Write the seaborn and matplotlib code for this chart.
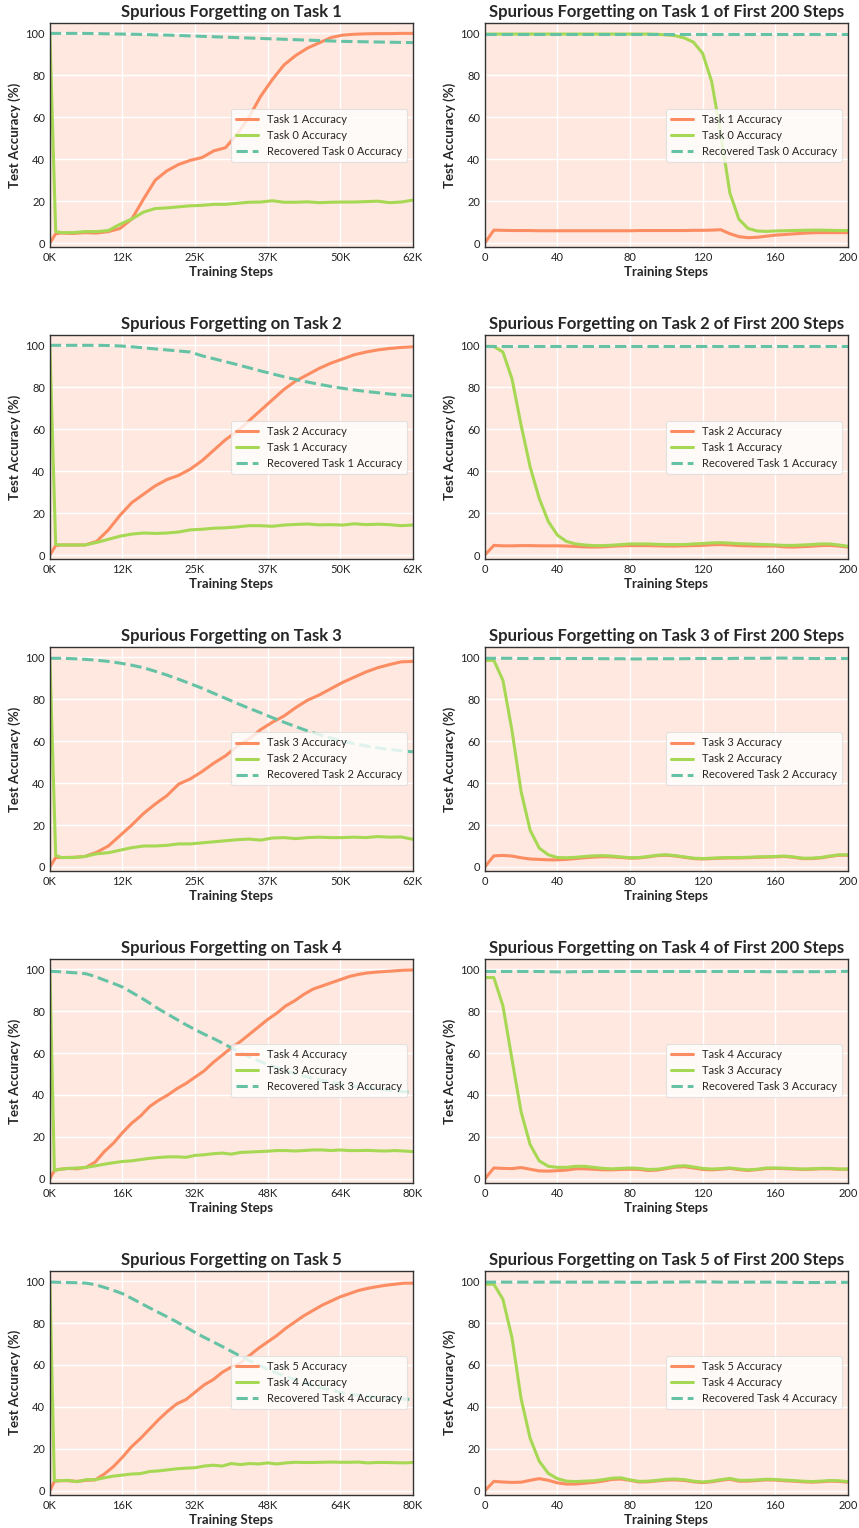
import matplotlib
matplotlib.use("Agg")
import matplotlib.pyplot as plt
import seaborn as sns

# ---------------------------------------------------------------- data
# evaluation steps (full run) in thousands of steps
steps_62k = [0, 1, 2] + list(range(4, 63, 2))
steps_80k = [0, 1, 2] + list(range(4, 81, 2))
# evaluation steps for the first 200 steps
steps_200 = list(range(0, 201, 5))

# ---- Task 1 (full run)
t1_new = [0, 4.5, 4.8, 4.6, 5.0, 4.8, 5.5, 7.0, 11.5, 21.0, 30.0, 34.5, 37.5, 39.5, 40.8, 44.0,
          45.5, 52.0, 60.0, 70.0, 78.0, 85.0, 89.5, 93.0, 95.5, 98.0, 99.2, 99.6, 99.8, 99.9, 99.9, 100.0, 100.0]
t1_old = [100, 5.5, 5.0, 5.0, 5.5, 5.5, 6.0, 9.0, 11.5, 14.8, 16.5, 16.8, 17.3, 17.8, 18.0, 18.5,
          18.5, 19.0, 19.5, 19.6, 20.2, 19.5, 19.5, 19.7, 19.3, 19.5, 19.6, 19.6, 19.8, 20.0, 19.3, 19.6, 20.5]
t1_rec = [100, 100, 100, 100, 100, 99.9, 99.8, 99.7, 99.6, 99.5, 99.3, 99.2, 99.0, 98.8, 98.6, 98.4,
          98.2, 98.0, 97.8, 97.6, 97.4, 97.2, 97.0, 96.8, 96.6, 96.4, 96.2, 96.1, 96.0, 95.9, 95.8, 95.7, 95.6]

# ---- Task 2 (full run)
t2_new = [0, 4.5, 4.8, 4.8, 4.8, 6.5, 12.0, 19.0, 25.0, 29.0, 33.0, 36.0, 38.0, 41.0, 45.0, 50.0,
          55.0, 59.0, 64.0, 69.0, 74.0, 79.0, 83.0, 86.0, 89.0, 91.5, 93.5, 95.5, 96.8, 97.8, 98.5, 99.0, 99.3]
t2_old = [100, 5.0, 4.8, 4.8, 4.8, 6.0, 7.5, 9.0, 10.0, 10.5, 10.3, 10.5, 11.0, 12.0, 12.3, 12.8,
          13.0, 13.4, 14.0, 14.0, 13.7, 14.3, 14.6, 14.8, 14.4, 14.5, 14.3, 14.9, 14.5, 14.7, 14.5, 14.0, 14.3]
t2_rec = [100, 100, 100, 100, 100, 100, 99.9, 99.7, 99.3, 98.8, 98.3, 97.8, 97.3, 96.8, 95.0, 93.6,
          92.2, 90.8, 89.3, 87.8, 86.4, 85.0, 83.7, 82.5, 81.4, 80.4, 79.5, 78.7, 78.0, 77.4, 76.8, 76.3, 75.9]

# ---- Task 3 (full run)
t3_new = [0, 4.5, 4.5, 4.6, 5.0, 7.0, 10.0, 15.0, 20.0, 25.5, 30.0, 34.0, 39.5, 42.0, 45.5, 49.5,
          53.0, 57.5, 61.0, 65.5, 69.0, 72.0, 76.0, 79.5, 82.0, 85.0, 88.0, 90.5, 93.0, 95.0, 96.5, 97.8, 98.0]
t3_old = [100, 5.5, 4.5, 4.5, 5.0, 6.3, 6.8, 8.0, 9.2, 10.0, 10.0, 10.3, 11.0, 11.0, 11.5, 12.0,
          12.5, 13.0, 13.3, 12.8, 13.8, 14.0, 13.5, 14.0, 14.2, 14.0, 14.0, 14.2, 14.0, 14.5, 14.2, 14.3, 13.2]
t3_rec = [99.5, 99.5, 99.5, 99.3, 99.0, 98.6, 98.0, 97.2, 96.2, 95.0, 93.3, 91.5, 89.5, 87.4, 85.2, 82.8,
          80.4, 78.0, 75.7, 73.5, 71.2, 69.0, 66.9, 64.9, 63.1, 61.5, 60.0, 58.8, 57.7, 56.8, 56.0, 55.4, 54.9]

# ---- Task 4 (full run)
t4_new = [0, 4.0, 4.5, 5.0, 4.8, 5.5, 8.0, 13.0, 17.0, 22.0, 26.5, 30.0, 34.5, 37.5, 40.0, 43.0, 45.5,
          48.5, 51.5, 55.5, 59.0, 62.5, 65.5, 69.0, 72.5, 76.0, 79.0, 82.5, 85.0, 88.0, 90.5, 92.0, 93.5,
          95.0, 96.5, 97.5, 98.2, 98.6, 98.9, 99.2, 99.5, 99.6]
t4_old = [100, 4.0, 4.5, 5.0, 5.2, 5.5, 6.2, 7.0, 7.7, 8.3, 8.6, 9.2, 9.8, 10.2, 10.5, 10.5, 10.3,
          11.2, 11.5, 12.0, 12.3, 11.8, 12.6, 12.8, 13.0, 13.2, 13.5, 13.5, 13.3, 13.5, 13.8, 13.8, 13.5,
          13.8, 13.5, 13.5, 13.6, 13.4, 13.3, 13.5, 13.3, 13.0]
t4_rec = [99.0, 98.9, 98.8, 98.5, 98.2, 97.8, 96.5, 94.8, 93.2, 91.5, 89.0, 86.5, 83.8, 81.0, 78.5, 76.0,
          73.5, 71.2, 69.0, 67.0, 64.8, 62.5, 60.2, 58.2, 56.3, 54.5, 53.0, 51.5, 50.2, 49.0, 48.0, 47.0,
          46.1, 45.3, 44.6, 44.0, 43.4, 42.9, 42.4, 42.0, 41.6, 41.3]

# ---- Task 5 (full run)
t5_new = [0, 4.5, 4.8, 4.8, 4.5, 5.0, 5.2, 8.0, 11.5, 16.0, 21.0, 25.0, 29.5, 34.0, 38.0, 41.5, 43.5,
          47.0, 50.5, 53.0, 56.5, 59.0, 61.0, 64.5, 68.0, 71.0, 74.0, 77.5, 80.5, 83.5, 86.0, 88.5, 90.5,
          92.5, 94.0, 95.5, 96.5, 97.3, 98.0, 98.5, 99.0, 99.0]
t5_old = [100, 4.8, 4.8, 5.0, 4.3, 5.3, 5.3, 6.2, 7.0, 7.5, 8.0, 8.2, 9.2, 9.5, 10.0, 10.5, 10.8,
          11.0, 11.8, 12.2, 11.8, 13.0, 12.5, 13.0, 12.8, 13.3, 12.8, 13.3, 13.6, 13.5, 13.5, 13.6, 13.7,
          13.6, 13.6, 13.7, 13.3, 13.5, 13.5, 13.4, 13.3, 13.5]
t5_rec = [99.5, 99.5, 99.4, 99.3, 99.2, 99.0, 98.3, 97.0, 95.6, 94.0, 91.8, 89.5, 87.2, 85.0, 82.8, 80.5,
          78.0, 75.5, 73.2, 71.0, 68.8, 66.5, 64.2, 62.0, 60.0, 58.0, 56.2, 54.5, 53.0, 51.5, 50.2, 49.0,
          48.0, 47.0, 46.2, 45.5, 45.0, 44.5, 44.2, 44.0, 43.7, 43.5]

# ---- first 200 steps
f1_new = [0, 6.2, 6.1, 6.0, 6.0, 6.0, 5.9, 5.9, 5.9, 5.9, 5.9, 5.9, 5.9, 5.9, 5.9, 5.9, 5.9, 6.0, 6.0, 6.0,
          6.0, 6.0, 6.0, 6.1, 6.1, 6.2, 6.4, 4.5, 3.1, 2.6, 2.8, 3.3, 3.8, 4.1, 4.4, 4.7, 4.9, 5.0, 5.0, 5.0, 5.0]
f1_old = [99.7, 99.7, 99.7, 99.7, 99.7, 99.7, 99.7, 99.7, 99.7, 99.7, 99.7, 99.7, 99.7, 99.7, 99.7, 99.7,
          99.7, 99.7, 99.7, 99.6, 99.3, 98.9, 97.8, 95.8, 90.5, 77.0, 52.0, 24.0, 11.4, 7.0, 5.8, 5.6, 5.8,
          5.9, 6.0, 6.1, 6.2, 6.2, 6.1, 6.0, 6.0]
f1_rec = [99.8, 99.8, 99.8, 99.8, 99.8, 99.8, 99.8, 99.8, 99.8, 99.8, 99.8, 99.8, 99.8, 99.8, 99.8, 99.8,
          99.8, 99.8, 99.8, 99.8, 99.8, 99.8, 99.8, 99.8, 99.8, 99.8, 99.8, 99.8, 99.8, 99.8, 99.8, 99.8,
          99.8, 99.8, 99.8, 99.8, 99.8, 99.8, 99.8, 99.8, 99.8]

f2_new = [0, 4.6, 4.4, 4.4, 4.5, 4.5, 4.4, 4.4, 4.4, 4.3, 4.1, 3.9, 3.8, 3.9, 4.2, 4.4, 4.5, 4.5, 4.5, 4.4,
          4.3, 4.3, 4.4, 4.5, 4.6, 4.9, 5.0, 4.8, 4.5, 4.4, 4.3, 4.3, 4.3, 3.9, 3.8, 4.0, 4.2, 4.5, 4.6, 4.3, 3.8]
f2_old = [99.5, 99.5, 96.8, 84.0, 62.0, 42.0, 27.0, 16.0, 9.5, 6.5, 5.3, 4.8, 4.5, 4.5, 4.7, 5.0, 5.3,
          5.3, 5.3, 5.1, 5.0, 5.0, 5.0, 5.3, 5.5, 5.8, 5.9, 5.7, 5.4, 5.3, 5.1, 5.0, 4.8, 4.6, 4.6, 4.8,
          5.0, 5.3, 5.3, 4.8, 4.2]
f2_rec = [99.9, 99.9, 99.9, 99.9, 99.9, 99.9, 99.9, 99.9, 99.9, 99.9, 99.9, 99.9, 99.9, 99.9, 99.9, 99.9,
          99.9, 99.9, 99.9, 99.9, 99.9, 99.9, 99.9, 99.9, 99.9, 99.9, 99.9, 99.9, 99.9, 99.9, 99.9, 99.9,
          99.9, 99.9, 99.9, 99.9, 99.9, 99.9, 99.9, 99.9, 99.9]

f3_new = [0, 5.3, 5.5, 5.2, 4.4, 3.8, 3.6, 3.4, 3.4, 3.6, 4.0, 4.4, 4.7, 4.9, 4.8, 4.5, 4.2, 4.3, 4.8, 5.4,
          5.6, 5.2, 4.6, 4.0, 3.8, 4.0, 4.2, 4.3, 4.3, 4.4, 4.6, 4.7, 4.8, 5.0, 4.6, 4.0, 4.0, 4.3, 5.0, 5.6, 5.6]
f3_old = [98.5, 98.5, 89.0, 65.0, 36.0, 17.5, 9.0, 5.8, 4.5, 4.4, 4.6, 5.0, 5.3, 5.4, 5.2, 4.8, 4.4,
          4.5, 5.0, 5.6, 5.8, 5.4, 4.8, 4.2, 4.0, 4.2, 4.4, 4.5, 4.5, 4.6, 4.8, 4.9, 5.0, 5.2, 4.8, 4.2,
          4.2, 4.5, 5.2, 5.8, 5.8]
f3_rec = [99.5, 99.5, 99.5, 99.5, 99.4, 99.4, 99.4, 99.4, 99.4, 99.4, 99.4, 99.4, 99.4, 99.3, 99.3, 99.3,
          99.2, 99.2, 99.3, 99.3, 99.3, 99.3, 99.3, 99.4, 99.4, 99.4, 99.4, 99.4, 99.5, 99.5, 99.5, 99.5,
          99.6, 99.6, 99.5, 99.5, 99.4, 99.4, 99.4, 99.4, 99.4]

f4_new = [0, 5.2, 5.0, 4.9, 5.4, 4.6, 3.8, 3.7, 3.9, 4.2, 4.8, 4.8, 4.6, 4.3, 4.3, 4.5, 4.6, 4.5, 4.0, 4.2,
          4.9, 5.6, 5.8, 5.2, 4.5, 4.3, 4.6, 5.0, 4.4, 4.0, 4.4, 4.9, 5.0, 4.9, 4.7, 4.5, 4.6, 4.8, 4.8, 4.6, 4.6]
f4_old = [96.0, 96.0, 82.5, 57.0, 32.0, 16.3, 8.6, 6.0, 5.5, 5.5, 6.0, 6.0, 5.5, 5.0, 4.8, 5.0, 5.2,
          5.0, 4.5, 4.6, 5.2, 6.0, 6.3, 5.7, 5.0, 4.7, 4.9, 5.2, 4.7, 4.3, 4.6, 5.2, 5.2, 5.1, 4.9, 4.7,
          4.8, 5.0, 5.0, 4.7, 4.7]
f4_rec = [98.9, 98.9, 98.9, 98.9, 98.9, 98.9, 98.9, 98.8, 98.7, 98.7, 98.8, 98.8, 98.9, 98.9, 98.9, 98.9,
          98.9, 98.9, 98.9, 98.9, 98.9, 98.9, 98.9, 98.9, 98.9, 98.9, 98.9, 98.9, 98.9, 98.9, 98.9, 98.8,
          98.8, 98.8, 98.8, 98.8, 98.8, 98.8, 98.8, 98.9, 99.0]

f5_new = [0, 4.5, 4.2, 4.0, 4.1, 5.0, 5.8, 5.0, 3.8, 3.2, 3.2, 3.6, 4.0, 4.6, 5.4, 5.6, 5.0, 4.2, 4.3, 4.7,
          5.1, 5.2, 4.9, 4.3, 3.9, 4.3, 5.0, 5.5, 4.6, 4.6, 4.9, 5.2, 5.1, 4.8, 4.6, 4.3, 4.1, 4.3, 4.6, 4.5, 4.1]
f5_old = [98.5, 98.5, 91.3, 73.0, 44.0, 25.0, 14.1, 8.3, 5.8, 4.6, 4.4, 4.6, 4.8, 5.3, 6.0, 6.2, 5.2,
          4.5, 4.6, 5.0, 5.5, 5.6, 5.3, 4.6, 4.2, 4.6, 5.3, 5.9, 5.0, 5.0, 5.2, 5.5, 5.4, 5.1, 4.9, 4.6,
          4.4, 4.6, 4.9, 4.8, 4.4]
f5_rec = [99.5, 99.5, 99.5, 99.5, 99.5, 99.5, 99.5, 99.5, 99.5, 99.5, 99.5, 99.5, 99.5, 99.5, 99.5, 99.5,
          99.4, 99.4, 99.4, 99.5, 99.5, 99.5, 99.6, 99.6, 99.6, 99.6, 99.5, 99.5, 99.5, 99.5, 99.5, 99.5,
          99.5, 99.4, 99.4, 99.3, 99.3, 99.3, 99.4, 99.4, 99.4]

full_runs = [
    (1, steps_62k, t1_new, t1_old, t1_rec),
    (2, steps_62k, t2_new, t2_old, t2_rec),
    (3, steps_62k, t3_new, t3_old, t3_rec),
    (4, steps_80k, t4_new, t4_old, t4_rec),
    (5, steps_80k, t5_new, t5_old, t5_rec),
]
early_runs = [
    (1, f1_new, f1_old, f1_rec),
    (2, f2_new, f2_old, f2_rec),
    (3, f3_new, f3_old, f3_rec),
    (4, f4_new, f4_old, f4_rec),
    (5, f5_new, f5_old, f5_rec),
]

# ---------------------------------------------------------------- style
C_NEW, C_OLD, C_REC = "#fc8d62", "#a6d854", "#66c2a5"
BG = "#fee8e0"

sns.set_theme(style="darkgrid")
plt.rcParams["font.family"] = ["Lato", "DejaVu Sans"]
plt.rcParams.update({
    "axes.facecolor": BG,
    "axes.edgecolor": "#333333",
    "grid.color": "white",
    "grid.linewidth": 1.0,
    "xtick.labelsize": 8,
    "ytick.labelsize": 8,
    "xtick.color": "#222222",
    "ytick.color": "#222222",
})

fig, axes = plt.subplots(5, 2, figsize=(8.59, 15.28), dpi=100)
fig.subplots_adjust(left=0.058, right=0.987, top=0.985, bottom=0.0216,
                    hspace=0.39, wspace=0.198)


def style_axis(ax, title):
    ax.set_title(title, fontsize=12, fontweight="bold", pad=4)
    ax.set_xlabel("Training Steps", fontsize=9.5, fontweight="bold", labelpad=2)
    ax.set_ylabel("Test Accuracy (%)", fontsize=9.5, fontweight="bold", labelpad=3)
    ax.set_ylim(-2, 105)
    ax.set_yticks([0, 20, 40, 60, 80, 100])
    ax.tick_params(axis="both", length=0, pad=3.5)
    for sp in ax.spines.values():
        sp.set_visible(True)
        sp.set_color("#333333")
        sp.set_linewidth(1.0)
    leg = ax.legend(loc="center right", fontsize=8, frameon=True, framealpha=0.8,
                    facecolor="white", edgecolor="#dddddd", borderpad=0.45,
                    labelspacing=0.45, handlelength=2.0)
    leg.get_frame().set_linewidth(0.8)


for (k, steps_k, new, old, rec), ax in zip(full_runs, axes[:, 0]):
    steps = [s * 1000 for s in steps_k]
    sns.lineplot(x=steps, y=new, ax=ax, color=C_NEW, linewidth=2.2,
                 label=f"Task {k} Accuracy")
    sns.lineplot(x=steps, y=old, ax=ax, color=C_OLD, linewidth=2.2,
                 label=f"Task {k - 1} Accuracy")
    sns.lineplot(x=steps, y=rec, ax=ax, color=C_REC, linewidth=2.2, linestyle="--",
                 label=f"Recovered Task {k - 1} Accuracy")
    xmax = steps[-1]
    ticks = [xmax * i / 5 for i in range(6)]
    ax.set_xlim(0, xmax)
    ax.set_xticks(ticks)
    ax.set_xticklabels([f"{round(t / 1000)}K" for t in ticks])
    style_axis(ax, f"Spurious Forgetting on Task {k}")

for (k, new, old, rec), ax in zip(early_runs, axes[:, 1]):
    sns.lineplot(x=steps_200, y=new, ax=ax, color=C_NEW, linewidth=2.2,
                 label=f"Task {k} Accuracy")
    sns.lineplot(x=steps_200, y=old, ax=ax, color=C_OLD, linewidth=2.2,
                 label=f"Task {k - 1} Accuracy")
    sns.lineplot(x=steps_200, y=rec, ax=ax, color=C_REC, linewidth=2.2, linestyle="--",
                 label=f"Recovered Task {k - 1} Accuracy")
    ax.set_xlim(0, 200)
    ax.set_xticks([0, 40, 80, 120, 160, 200])
    style_axis(ax, f"Spurious Forgetting on Task {k} of First 200 Steps")

fig.savefig("out.png", dpi=100)
